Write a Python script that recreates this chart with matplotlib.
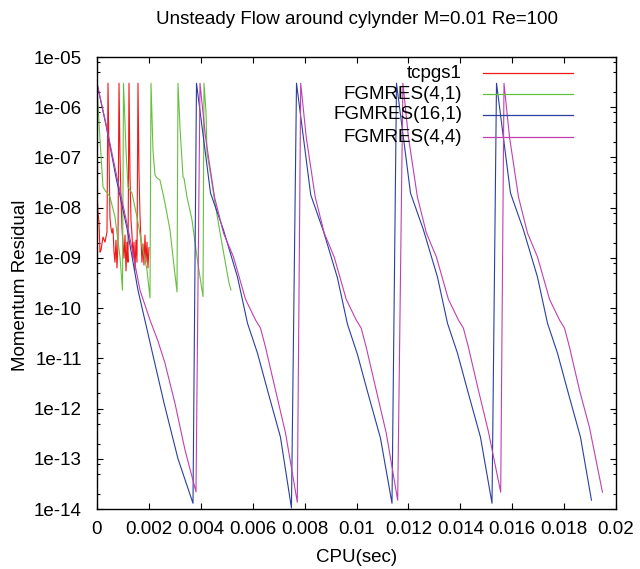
import matplotlib
matplotlib.use("Agg")
import matplotlib.pyplot as plt
from matplotlib.ticker import FixedLocator, FuncFormatter, LogLocator, NullLocator
import numpy as np

plt.rcParams['font.family'] = ['Liberation Sans', 'DejaVu Sans']
plt.rcParams['font.size'] = 13.5

# residual histories, CPU time in seconds
tcpgs1_t = [0.0, 0.0000385, 0.000077, 0.000116, 0.000154, 0.000231, 0.000308, 0.000385,
            0.000424, 0.000462, 0.000501, 0.000539, 0.000578, 0.000616, 0.000655, 0.000693,
            0.000732, 0.00077, 0.000809, 0.000848, 0.000886, 0.000925, 0.000963, 0.001002,
            0.00104, 0.001079, 0.001117, 0.001156, 0.001194, 0.001233, 0.001271, 0.00131,
            0.001348, 0.001387, 0.001425, 0.001464, 0.001502, 0.001541, 0.001579, 0.001618,
            0.001656, 0.001695, 0.001733, 0.001772, 0.00181, 0.001849, 0.001887, 0.001926,
            0.001964, 0.002003]
tcpgs1_r = [2.2e-8, 7.9e-9, 5.2e-9, 1.3e-9, 1.43e-9, 2.6e-9, 2.06e-9, 3.27e-9,
            3.0e-6, 1.2e-7, 6.1e-9, 3.9e-9, 3.12e-9, 3.9e-9, 1.3e-9, 8.2e-10,
            2.26e-9, 6.3e-10, 1.97e-9, 3.0e-6, 1.1e-7, 1.42e-8, 3.9e-9, 1.97e-9,
            9.9e-10, 2.85e-9, 5.5e-10, 2.06e-9, 8.2e-10, 3.0e-6, 4.4e-8, 5.7e-9,
            2.9e-9, 1.04e-9, 2.06e-9, 5.7e-10, 2.26e-9, 8.2e-10, 3.0e-6, 5.0e-8,
            7.1e-9, 2.3e-9, 8.2e-10, 1.9e-9, 7.2e-10, 2.85e-9, 8.2e-10, 2.06e-9,
            6.3e-10, 1.6e-9]

fgmres41_t = [0.0, 0.000116, 0.000231, 0.000308, 0.000501, 0.000693, 0.000886, 0.000983,
              0.001021, 0.001117, 0.001194, 0.001348, 0.001541, 0.001733, 0.001926, 0.002042,
              0.002081, 0.002157, 0.002234, 0.002311, 0.002427, 0.002619, 0.002812, 0.002928, 0.003083,
              0.003121, 0.003198, 0.003314, 0.003352, 0.003468, 0.003661, 0.003853, 0.003969, 0.004085,
              0.004123, 0.004201, 0.004239, 0.004393, 0.004509, 0.004701, 0.004894, 0.005087, 0.005164]
fgmres41_r = [2.6e-6, 2.2e-7, 2.57e-8, 2.24e-8, 1.63e-8, 6.5e-9, 1.04e-9, 2.28e-10,
              3.0e-6, 1.4e-7, 2.57e-8, 1.95e-8, 6.5e-9, 1.8e-9, 5.7e-10, 1.6e-10,
              3.0e-6, 1.4e-7, 4.46e-8, 3.9e-8, 3.55e-8, 1.24e-8, 3.6e-9, 1.04e-9, 2.1e-10,
              3.0e-6, 4.0e-7, 4.07e-8, 3.9e-8, 1.63e-8, 5.7e-9, 1.04e-9, 4.15e-10, 1.7e-10,
              3.0e-6, 8.0e-7, 1.22e-7, 4.07e-8, 1.63e-8, 4.2e-9, 1.14e-9, 3.15e-10, 2.3e-10]

fgmres161_t = [0.0, 0.000347, 0.000732, 0.001156, 0.001579, 0.002081, 0.002581, 0.003121, 0.003699,
               0.003834, 0.004374, 0.004875, 0.005414, 0.005799, 0.006184, 0.006569, 0.007070, 0.007493,
               0.007688, 0.008236, 0.008726, 0.009266, 0.009651, 0.010036, 0.010421, 0.010922, 0.011368,
               0.011541, 0.012081, 0.012582, 0.013121, 0.013506, 0.013891, 0.014276, 0.014777, 0.015222,
               0.015395, 0.015934, 0.016435, 0.016975, 0.017360, 0.017745, 0.018130, 0.018631, 0.019054]
fgmres161_r = [3.0e-6, 4.4e-7, 4.0e-8, 3.9e-9, 2.28e-10, 1.7e-11, 1.3e-12, 1.0e-13, 1.3e-14,
               3.0e-6, 1.95e-8, 3.58e-9, 4.15e-10, 5.0e-11, 1.27e-11, 2.33e-12, 2.7e-13, 1.05e-14,
               3.0e-6, 1.8e-8, 3.4e-9, 4.0e-10, 4.8e-11, 1.2e-11, 2.2e-12, 2.6e-13, 1.3e-14,
               3.0e-6, 1.95e-8, 3.58e-9, 4.15e-10, 5.0e-11, 1.27e-11, 2.33e-12, 2.7e-13, 1.3e-14,
               3.0e-6, 1.95e-8, 3.58e-9, 4.15e-10, 5.0e-11, 1.27e-11, 2.33e-12, 2.7e-13, 1.5e-14]

fgmres44_t = [0.0, 0.000347, 0.000770, 0.001194, 0.001656, 0.002042, 0.002350, 0.002620, 0.003005,
              0.003391, 0.003815,
              0.003969, 0.004181, 0.004528, 0.004875, 0.005260, 0.005723, 0.006108, 0.006300, 0.006493,
              0.006878, 0.007263, 0.007719,
              0.007850, 0.008062, 0.008409, 0.008756, 0.009141, 0.009604, 0.009989, 0.010181, 0.010374,
              0.010759, 0.011144, 0.011587,
              0.011788, 0.012000, 0.012347, 0.012694, 0.013079, 0.013542, 0.013927, 0.014119, 0.014312,
              0.014697, 0.015082, 0.015557,
              0.015684, 0.015896, 0.016243, 0.016590, 0.016975, 0.017438, 0.017823, 0.018015, 0.018208,
              0.018593, 0.018978, 0.019478]
fgmres44_r = [3.0e-6, 4.6e-7, 4.0e-8, 3.9e-9, 2.28e-10, 5.8e-11, 2.2e-11, 8.0e-12, 1.27e-12,
              1.5e-13, 2.2e-14,
              3.0e-6, 2.55e-7, 1.63e-8, 3.12e-9, 1.04e-9, 1.5e-10, 5.8e-11, 4.0e-11, 1.67e-11,
              2.33e-12, 3.3e-13, 1.36e-14,
              3.0e-6, 2.55e-7, 1.63e-8, 3.12e-9, 1.04e-9, 1.5e-10, 5.8e-11, 4.0e-11, 1.67e-11,
              2.33e-12, 3.3e-13, 1.5e-14,
              3.0e-6, 2.55e-7, 1.63e-8, 3.12e-9, 1.04e-9, 1.5e-10, 5.8e-11, 4.0e-11, 1.67e-11,
              2.33e-12, 3.5e-13, 2.16e-14,
              3.0e-6, 2.55e-7, 1.63e-8, 3.12e-9, 1.04e-9, 1.5e-10, 5.8e-11, 4.0e-11, 1.67e-11,
              2.33e-12, 4.2e-13, 2.16e-14]

labels = ['tcpgs1', 'FGMRES(4,1)', 'FGMRES(16,1)', 'FGMRES(4,4)']
colors = ['#f01818', '#66c040', '#2a3fa0', '#c040b0']
series = [(tcpgs1_t, tcpgs1_r), (fgmres41_t, fgmres41_r),
          (fgmres161_t, fgmres161_r), (fgmres44_t, fgmres44_r)]

fig = plt.figure(figsize=(6.4, 5.69), dpi=100)
ax = fig.add_axes([97 / 640, 1 - 509 / 569, 519 / 640, 452 / 569])

for (t, r), c in zip(series, colors):
    ax.plot(t, r, color=c, lw=0.8)

ax.set_yscale('log')
ax.set_xlim(0, 0.02)
ax.set_ylim(1e-14, 1e-5)

ax.xaxis.set_major_locator(FixedLocator(np.linspace(0, 0.02, 11)))
ax.xaxis.set_major_formatter(FuncFormatter(lambda v, p: '%g' % round(v, 6)))
ax.xaxis.set_minor_locator(NullLocator())
ax.yaxis.set_major_locator(FixedLocator([10.0 ** e for e in range(-14, -4)]))
ax.yaxis.set_major_formatter(FuncFormatter(lambda v, p: '1e-%02d' % round(-np.log10(v))))
ax.yaxis.set_minor_locator(LogLocator(base=10, subs=(2, 5, 8), numticks=20))

ax.tick_params(which='both', direction='in', top=True, right=True, width=0.8)
ax.tick_params(which='major', length=4)
ax.tick_params(which='minor', length=2.5)
ax.tick_params(axis='x', pad=9)
ax.tick_params(axis='y', pad=11)
for s in ax.spines.values():
    s.set_linewidth(1.0)

# legend: right aligned keys with sample lines on the right
key_y = [0.9646, 0.9181, 0.8717, 0.823]
for lab, c, y in zip(labels, colors, key_y):
    ax.text(0.7033, y, lab, transform=ax.transAxes, ha='right', va='center')
    ax.plot([0.7437, 0.9171], [y, y], transform=ax.transAxes, color=c, lw=0.9)

fig.text(357 / 640, 1 - 20 / 569, 'Unsteady Flow around cylynder M=0.01 Re=100',
         ha='center', va='center')
fig.text(357 / 640, 1 - 557 / 569, 'CPU(sec)', ha='center', va='center')
fig.text(21 / 640, 1 - 285 / 569, 'Momentum Residual', ha='center', va='center',
         rotation=90)

fig.savefig('out.png', dpi=100)
